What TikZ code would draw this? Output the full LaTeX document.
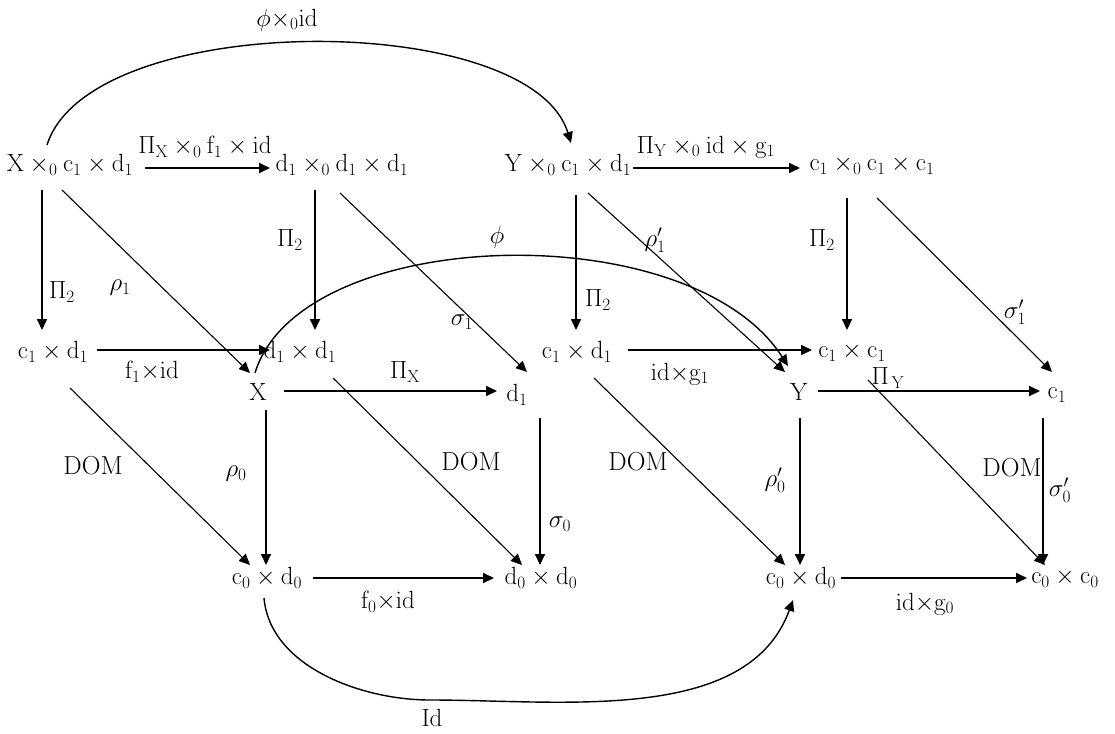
\documentclass[tikz,border=0pt]{standalone}
\usetikzlibrary{arrows.meta}
\newcommand{\tx}{{\times}}
\begin{document}
\begin{tikzpicture}[x=1pt,y=-1pt,
  every node/.style={font=\fontsize{26}{30}\selectfont, inner sep=0pt},
  tip/.style={-{Triangle[length=11pt,width=10pt]}},
  ar/.style={tip, line width=1.8pt},
  dg/.style={tip, line width=1.1pt},
  cv/.style={tip, line width=1.4pt},
  lb/.style={font=\fontsize{26}{30}\selectfont}]
\useasboundingbox (0,0) rectangle (1115,733);
% nodes
\node (A) at (70,165) {$\mathrm{X\times_0c_1\times d_1}$};
\node (B) at (342,165) {$\mathrm{d_1\times_0d_1\times d_1}$};
\node (C) at (568,165) {$\mathrm{Y\times_0c_1\times d_1}$};
\node (D) at (872,165) {$\mathrm{c_1\times_0c_1\times c_1}$};
\node (E) at (53,352) {$\mathrm{c_1\times d_1}$};
\node (F) at (300,352) {$\mathrm{d_1\times d_1}$};
\node (G) at (577,352) {$\mathrm{c_1\times d_1}$};
\node (H) at (852,352) {$\mathrm{c_1\times c_1}$};
\node (X) at (258,392) {$\mathrm{X}$};
\node (d1) at (517,395) {$\mathrm{d_1}$};
\node (Y) at (799,392) {$\mathrm{Y}$};
\node (c1) at (1057,395) {$\mathrm{c_1}$};
\node (P) at (267,578) {$\mathrm{c_0\times d_0}$};
\node (Q) at (541,578) {$\mathrm{d_0\times d_0}$};
\node (R) at (801,578) {$\mathrm{c_0\times d_0}$};
\node (S) at (1065,578) {$\mathrm{c_0\times c_0}$};
\coordinate (idb) at (430,700);
% horizontal arrows
\draw[ar] ([shift={(75,3)}]A.center) -- ([shift={(-72,3)}]B.center);
\draw[ar] ([shift={(65,3)}]C.center) -- ([shift={(-72,3)}]D.center);
\draw[ar] ([shift={(44,-2)}]E.center) -- ([shift={(-30,-2)}]F.center);
\draw[ar] ([shift={(51,-2)}]G.center) -- ([shift={(-40,-2)}]H.center);
\draw[ar] ([shift={(26,-1)}]X.center) -- ([shift={(-20,-4)}]d1.center);
\draw[ar] ([shift={(19,-1)}]Y.center) -- ([shift={(-17,-4)}]c1.center);
\draw[ar] ([shift={(46,0)}]P.center) -- ([shift={(-47,0)}]Q.center);
\draw[ar] ([shift={(40,0)}]R.center) -- ([shift={(-38,0)}]S.center);
% vertical arrows
\draw[ar] ([shift={(-28,25)}]A.center) -- ([shift={(-11,-22)}]E.center);
\draw[ar] ([shift={(-27,25)}]B.center) -- ([shift={(15,-22)}]F.center);
\draw[ar] ([shift={(8,30)}]C.center) -- ([shift={(-1,-22)}]G.center);
\draw[ar] ([shift={(-25,33)}]D.center) -- ([shift={(-5,-22)}]H.center);
\draw[ar] ([shift={(8,18)}]X.center) -- ([shift={(-1,-13)}]P.center);
\draw[ar] ([shift={(23,23)}]d1.center) -- ([shift={(-1,-13)}]Q.center);
\draw[ar] ([shift={(1,26)}]Y.center) -- ([shift={(-1,-13)}]R.center);
\draw[ar] ([shift={(-14,23)}]c1.center) -- ([shift={(-22,-13)}]S.center);
% diagonal arrows
\draw[dg] ([shift={(-8,25)}]A.center) -- ([shift={(-8,-19)}]X.center);
\draw[dg] ([shift={(-2,28)}]B.center) -- ([shift={(10,-23)}]d1.center);
\draw[dg] ([shift={(20,28)}]C.center) -- ([shift={(-14,-20)}]Y.center);
\draw[dg] ([shift={(5,33)}]D.center) -- ([shift={(-5,-23)}]c1.center);
\draw[dg] ([shift={(17,36)}]E.center) -- ([shift={(-17,-13)}]P.center);
\draw[dg] ([shift={(33,26)}]F.center) -- ([shift={(-19,-13)}]Q.center);
\draw[dg] ([shift={(17,26)}]G.center) -- ([shift={(-16,-13)}]R.center);
\draw[dg] ([shift={(16,28)}]H.center) -- ([shift={(-20,-13)}]S.center);
% curves
\draw[cv] ([shift={(-23,-20)}]A.center) .. controls (90,9) and (530,9) .. ([shift={(3,-22)}]C.center);
\draw[cv] ([shift={(-3,-19)}]X.center) .. controls (300,225) and (690,213) .. ([shift={(-11,-26)}]Y.center);
\draw[cv] ([shift={(-3,20)}]P.center) to[out=-85,in=180,looseness=0.9] (idb) to[out=0,in=-110,looseness=0.9] ([shift={(-8,22)}]R.center);
% labels
\node[lb] at (205,147) {$\mathrm{\Pi_X\times_0f_1\times id}$};
\node[lb] at (706,147) {$\mathrm{\Pi_Y\times_0id\times g_1}$};
\node[lb] at (287,20) {$\mathrm{\phi\tx_0id}$};
\node[lb] at (497,237) {$\phi$};
\node[lb] at (432,718) {$\mathrm{Id}$};
\node[lb] at (62,292) {$\Pi_2$};
\node[lb] at (120,288) {$\rho_1$};
\node[lb] at (290,240) {$\Pi_2$};
\node[lb] at (462,322) {$\sigma_1$};
\node[lb] at (598,300) {$\Pi_2$};
\node[lb] at (655,240) {$\rho_1'$};
\node[lb] at (822,240) {$\Pi_2$};
\node[lb] at (1015,312) {$\sigma_1'$};
\node[lb] at (152,372) {$\mathrm{f_1\tx id}$};
\node[lb] at (680,374) {$\mathrm{id\tx g_1}$};
\node[lb] at (405,372) {$\Pi_\mathrm{X}$};
\node[lb] at (888,378) {$\Pi_\mathrm{\,Y}$};
\node[lb] at (93,466) {DOM};
\node[lb] at (471,462) {DOM};
\node[lb] at (638,462) {DOM};
\node[lb] at (1012,468) {DOM};
\node[lb] at (236,474) {$\rho_0$};
\node[lb] at (560,524) {$\sigma_0$};
\node[lb] at (775,480) {$\rho_0'$};
\node[lb] at (1060,490) {$\sigma_0'$};
\node[lb] at (388,602) {$\mathrm{f_0\tx id}$};
\node[lb] at (925,604) {$\mathrm{id\tx g_0}$};
\end{tikzpicture}
\end{document}
